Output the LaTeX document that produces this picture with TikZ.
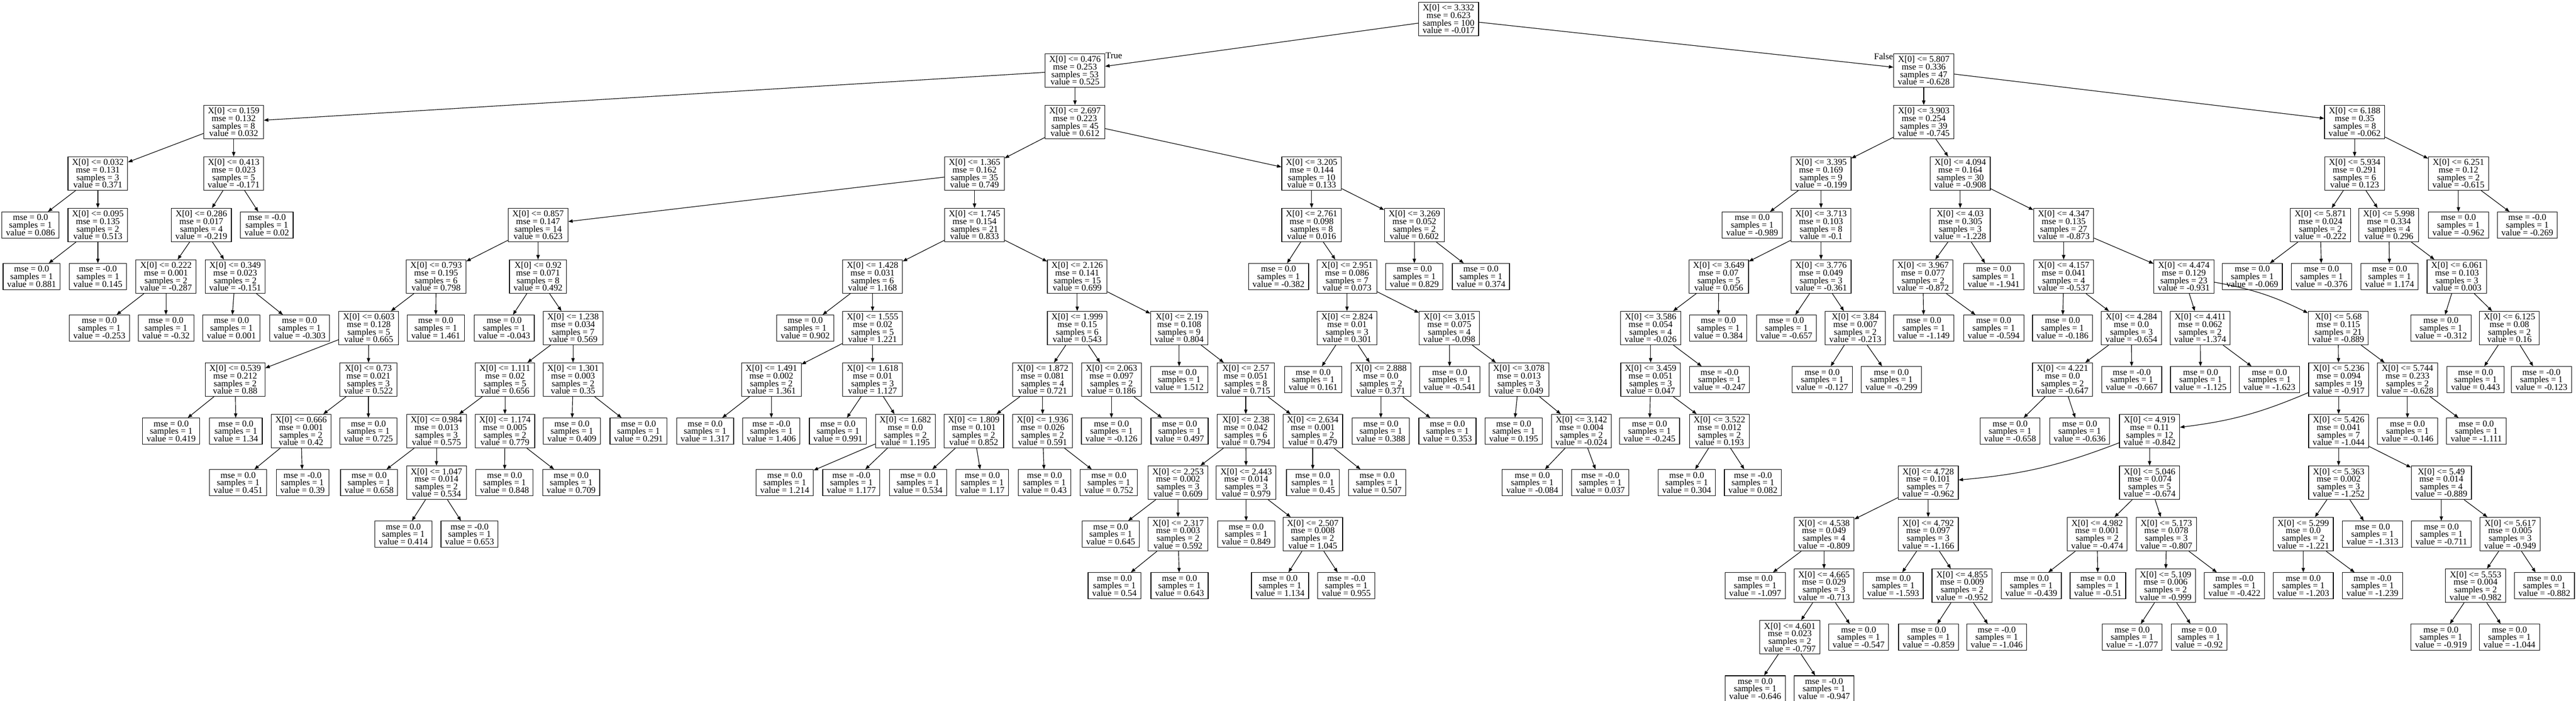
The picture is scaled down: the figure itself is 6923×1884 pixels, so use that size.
\documentclass[tikz,border=0pt]{standalone}
\usepackage{fontspec}
\setmainfont{Liberation Serif}
\usetikzlibrary{arrows.meta}

\newcommand{\nodefont}{\fontsize{24}{20.3}\selectfont\lineskiplimit=-30pt}
% split node: name, x, level, threshold, mse, samples, value
\newcommand{\splitnode}[7]{\node[split] (#1) at (#2,{-51-138.5*(#3-1)}) {X[0] <= #4\\mse = #5\\samples = #6\\value = #7};}
% leaf: name, x, level, mse, value
\newcommand{\leafnode}[5]{\node[leaf] (#1) at (#2,{-51-138.5*(#3-1)}) {mse = #4\\samples = 1\\value = #5};}

\begin{document}
\begin{tikzpicture}[x=1pt,y=1pt,
    split/.style={draw,line width=1.6pt,align=center,font=\nodefont,inner xsep=11pt,inner ysep=2pt,minimum height=90pt},
    leaf/.style={split,minimum height=70pt},
    edge/.style={line width=1.6pt,-{Triangle[length=12pt,width=9pt]}},
    lbl/.style={font=\nodefont,inner sep=1pt}]
    \useasboundingbox (0,0) rectangle (6923,-1884);
    \splitnode{root}{3893}{1}{3.332}{0.623}{100}{-0.017}
    \splitnode{a0476}{2889}{2}{0.476}{0.253}{53}{0.525}
    \splitnode{a5807}{5170}{2}{5.807}{0.336}{47}{-0.628}
    \splitnode{a0159}{628}{3}{0.159}{0.132}{8}{0.032}
    \splitnode{a2697}{2889}{3}{2.697}{0.223}{45}{0.612}
    \splitnode{a3903}{5170}{3}{3.903}{0.254}{39}{-0.745}
    \splitnode{a6188}{6328}{3}{6.188}{0.35}{8}{-0.062}
    \splitnode{a0032}{263}{4}{0.032}{0.131}{3}{0.371}
    \splitnode{a0413}{628}{4}{0.413}{0.023}{5}{-0.171}
    \splitnode{a1365}{2619}{4}{1.365}{0.162}{35}{0.749}
    \splitnode{a3205}{3525}{4}{3.205}{0.144}{10}{0.133}
    \splitnode{a3395}{4894}{4}{3.395}{0.169}{9}{-0.199}
    \splitnode{a4094}{5268}{4}{4.094}{0.164}{30}{-0.908}
    \splitnode{a5934}{6328}{4}{5.934}{0.291}{6}{0.123}
    \splitnode{a6251}{6607}{4}{6.251}{0.12}{2}{-0.615}
    \splitnode{a0095}{263}{5}{0.095}{0.135}{2}{0.513}
    \splitnode{a0286}{541}{5}{0.286}{0.017}{4}{-0.219}
    \splitnode{a0857}{1446}{5}{0.857}{0.147}{14}{0.623}
    \splitnode{a1745}{2619}{5}{1.745}{0.154}{21}{0.833}
    \splitnode{a2761}{3525}{5}{2.761}{0.098}{8}{0.016}
    \splitnode{a3269}{3801}{5}{3.269}{0.052}{2}{0.602}
    \splitnode{a3713}{4894}{5}{3.713}{0.103}{8}{-0.1}
    \splitnode{a4030}{5268}{5}{4.03}{0.305}{3}{-1.228}
    \splitnode{a4347}{5546}{5}{4.347}{0.135}{27}{-0.873}
    \splitnode{a5871}{6236}{5}{5.871}{0.024}{2}{-0.222}
    \splitnode{a5998}{6420}{5}{5.998}{0.334}{4}{0.296}
    \splitnode{a0222}{446}{6}{0.222}{0.001}{2}{-0.287}
    \splitnode{a0349}{632}{6}{0.349}{0.023}{2}{-0.151}
    \splitnode{a0793}{1172}{6}{0.793}{0.195}{6}{0.798}
    \splitnode{a0920}{1446}{6}{0.92}{0.071}{8}{0.492}
    \splitnode{a1428}{2345}{6}{1.428}{0.031}{6}{1.168}
    \splitnode{a2126}{2895}{6}{2.126}{0.141}{15}{0.699}
    \splitnode{a2951}{3620}{6}{2.951}{0.086}{7}{0.073}
    \splitnode{a3649}{4619}{6}{3.649}{0.07}{5}{0.056}
    \splitnode{a3776}{4894}{6}{3.776}{0.049}{3}{-0.361}
    \splitnode{a3967}{5168}{6}{3.967}{0.077}{2}{-0.872}
    \splitnode{a4157}{5546}{6}{4.157}{0.041}{4}{-0.537}
    \splitnode{a4474}{5869}{6}{4.474}{0.129}{23}{-0.931}
    \splitnode{a6061}{6603}{6}{6.061}{0.103}{3}{0.003}
    \splitnode{a0603}{991}{7}{0.603}{0.128}{5}{0.665}
    \splitnode{a1238}{1540}{7}{1.238}{0.034}{7}{0.569}
    \splitnode{a1555}{2345}{7}{1.555}{0.02}{5}{1.221}
    \splitnode{a1999}{2895}{7}{1.999}{0.15}{6}{0.543}
    \splitnode{a2190}{3169}{7}{2.19}{0.108}{9}{0.804}
    \splitnode{a2824}{3620}{7}{2.824}{0.01}{3}{0.301}
    \splitnode{a3015}{3895}{7}{3.015}{0.075}{4}{-0.098}
    \splitnode{a3586}{4436}{7}{3.586}{0.054}{4}{-0.026}
    \splitnode{a3840}{4986}{7}{3.84}{0.007}{2}{-0.213}
    \splitnode{a4284}{5728}{7}{4.284}{0.0}{3}{-0.654}
    \splitnode{a4411}{5913}{7}{4.411}{0.062}{2}{-1.374}
    \splitnode{a5680}{6284}{7}{5.68}{0.115}{21}{-0.889}
    \splitnode{a6125}{6744}{7}{6.125}{0.08}{2}{0.16}
    \splitnode{a0539}{632}{8}{0.539}{0.212}{2}{0.88}
    \splitnode{a0730}{990}{8}{0.73}{0.021}{3}{0.522}
    \splitnode{a1111}{1357}{8}{1.111}{0.02}{5}{0.656}
    \splitnode{a1301}{1540}{8}{1.301}{0.003}{2}{0.35}
    \splitnode{a1491}{2073}{8}{1.491}{0.002}{2}{1.361}
    \splitnode{a1618}{2345}{8}{1.618}{0.01}{3}{1.127}
    \splitnode{a1872}{2802}{8}{1.872}{0.081}{4}{0.721}
    \splitnode{a2063}{2987}{8}{2.063}{0.097}{2}{0.186}
    \splitnode{a2570}{3348}{8}{2.57}{0.051}{8}{0.715}
    \splitnode{a2888}{3711}{8}{2.888}{0.0}{2}{0.371}
    \splitnode{a3078}{4082}{8}{3.078}{0.013}{3}{0.049}
    \splitnode{a3459}{4436}{8}{3.459}{0.051}{3}{0.047}
    \splitnode{a4221}{5543}{8}{4.221}{0.0}{2}{-0.647}
    \splitnode{a5236}{6285}{8}{5.236}{0.094}{19}{-0.917}
    \splitnode{a5744}{6470}{8}{5.744}{0.233}{2}{-0.628}
    \splitnode{a0666}{809}{9}{0.666}{0.001}{2}{0.42}
    \splitnode{a0984}{1173}{9}{0.984}{0.013}{3}{0.575}
    \splitnode{a1174}{1357}{9}{1.174}{0.005}{2}{0.779}
    \splitnode{a1682}{2433}{9}{1.682}{0.0}{2}{1.195}
    \splitnode{a1809}{2617}{9}{1.809}{0.101}{2}{0.852}
    \splitnode{a1936}{2802}{9}{1.936}{0.026}{2}{0.591}
    \splitnode{a2380}{3348}{9}{2.38}{0.042}{6}{0.794}
    \splitnode{a2634}{3528}{9}{2.634}{0.001}{2}{0.479}
    \splitnode{a3142}{4250}{9}{3.142}{0.004}{2}{-0.024}
    \splitnode{a3522}{4621}{9}{3.522}{0.012}{2}{0.193}
    \splitnode{a4919}{5777}{9}{4.919}{0.11}{12}{-0.842}
    \splitnode{a5426}{6285}{9}{5.426}{0.041}{7}{-1.044}
    \splitnode{a1047}{1173}{10}{1.047}{0.014}{2}{0.534}
    \splitnode{a2253}{3166}{10}{2.253}{0.002}{3}{0.609}
    \splitnode{a2443}{3349}{10}{2.443}{0.014}{3}{0.979}
    \splitnode{a4728}{5182}{10}{4.728}{0.101}{7}{-0.962}
    \splitnode{a5046}{5777}{10}{5.046}{0.074}{5}{-0.674}
    \splitnode{a5363}{6285}{10}{5.363}{0.002}{3}{-1.252}
    \splitnode{a5490}{6561}{10}{5.49}{0.014}{4}{-0.889}
    \splitnode{a2317}{3166}{11}{2.317}{0.003}{2}{0.592}
    \splitnode{a2507}{3528}{11}{2.507}{0.008}{2}{1.045}
    \splitnode{a4538}{4902}{11}{4.538}{0.049}{4}{-0.809}
    \splitnode{a4792}{5182}{11}{4.792}{0.097}{3}{-1.166}
    \splitnode{a4982}{5636}{11}{4.982}{0.001}{2}{-0.474}
    \splitnode{a5173}{5822}{11}{5.173}{0.078}{3}{-0.807}
    \splitnode{a5299}{6190}{11}{5.299}{0.0}{2}{-1.221}
    \splitnode{a5617}{6746}{11}{5.617}{0.005}{3}{-0.949}
    \splitnode{a4665}{4902}{12}{4.665}{0.029}{3}{-0.713}
    \splitnode{a4855}{5273}{12}{4.855}{0.009}{2}{-0.952}
    \splitnode{a5109}{5820}{12}{5.109}{0.006}{2}{-0.999}
    \splitnode{a5553}{6653}{12}{5.553}{0.004}{2}{-0.982}
    \splitnode{a4601}{4810}{13}{4.601}{0.023}{2}{-0.797}
    \leafnode{l0086}{82}{5}{0.0}{0.086}
    \leafnode{l0020}{717}{5}{-0.0}{0.02}
    \leafnode{lm0989}{4709}{5}{0.0}{-0.989}
    \leafnode{lm0962}{6607}{5}{0.0}{-0.962}
    \leafnode{lm0269}{6792}{5}{-0.0}{-0.269}
    \leafnode{l0881}{85}{6}{0.0}{0.881}
    \leafnode{l0145}{263}{6}{-0.0}{0.145}
    \leafnode{lm0382}{3436}{6}{0.0}{-0.382}
    \leafnode{l0829}{3801}{6}{0.0}{0.829}
    \leafnode{l0374}{3980}{6}{0.0}{0.374}
    \leafnode{lm1941}{5358}{6}{0.0}{-1.941}
    \leafnode{lm0069}{6053}{6}{0.0}{-0.069}
    \leafnode{lm0376}{6239}{6}{0.0}{-0.376}
    \leafnode{l1174}{6422}{6}{0.0}{1.174}
    \leafnode{lm0253}{267}{7}{0.0}{-0.253}
    \leafnode{lm0320}{446}{7}{0.0}{-0.32}
    \leafnode{l0001}{622}{7}{0.0}{0.001}
    \leafnode{lm0303}{805}{7}{0.0}{-0.303}
    \leafnode{l1461}{1171}{7}{0.0}{1.461}
    \leafnode{lm0043}{1355}{7}{0.0}{-0.043}
    \leafnode{l0902}{2164}{7}{0.0}{0.902}
    \leafnode{l0384}{4618}{7}{0.0}{0.384}
    \leafnode{lm0657}{4801}{7}{0.0}{-0.657}
    \leafnode{lm1149}{5170}{7}{0.0}{-1.149}
    \leafnode{lm0594}{5358}{7}{0.0}{-0.594}
    \leafnode{lm0186}{5543}{7}{0.0}{-0.186}
    \leafnode{lm0312}{6560}{7}{0.0}{-0.312}
    \leafnode{l1512}{3169}{8}{0.0}{1.512}
    \leafnode{l0161}{3529}{8}{0.0}{0.161}
    \leafnode{lm0541}{3896}{8}{0.0}{-0.541}
    \leafnode{lm0247}{4621}{8}{-0.0}{-0.247}
    \leafnode{lm0127}{4897}{8}{0.0}{-0.127}
    \leafnode{lm0299}{5083}{8}{0.0}{-0.299}
    \leafnode{lm0667}{5729}{8}{-0.0}{-0.667}
    \leafnode{lm1125}{5914}{8}{0.0}{-1.125}
    \leafnode{lm1623}{6099}{8}{0.0}{-1.623}
    \leafnode{l0443}{6653}{8}{0.0}{0.443}
    \leafnode{lm0123}{6830}{8}{-0.0}{-0.123}
    \leafnode{l0419}{460}{9}{0.0}{0.419}
    \leafnode{l1340}{634}{9}{0.0}{1.34}
    \leafnode{l0725}{990}{9}{0.0}{0.725}
    \leafnode{l0409}{1537}{9}{0.0}{0.409}
    \leafnode{l0291}{1716}{9}{0.0}{0.291}
    \leafnode{l1317}{1895}{9}{0.0}{1.317}
    \leafnode{l1406}{2073}{9}{-0.0}{1.406}
    \leafnode{l0991}{2252}{9}{0.0}{0.991}
    \leafnode{lm0126}{2987}{9}{0.0}{-0.126}
    \leafnode{l0497}{3170}{9}{0.0}{0.497}
    \leafnode{l0388}{3711}{9}{0.0}{0.388}
    \leafnode{l0353}{3890}{9}{0.0}{0.353}
    \leafnode{l0195}{4068}{9}{0.0}{0.195}
    \leafnode{lm0245}{4433}{9}{0.0}{-0.245}
    \leafnode{lm0658}{5402}{9}{0.0}{-0.658}
    \leafnode{lm0636}{5589}{9}{0.0}{-0.636}
    \leafnode{lm0146}{6470}{9}{0.0}{-0.146}
    \leafnode{lm1111}{6655}{9}{0.0}{-1.111}
    \leafnode{l0451}{640}{10}{0.0}{0.451}
    \leafnode{l0390}{813}{10}{-0.0}{0.39}
    \leafnode{l0658}{992}{10}{0.0}{0.658}
    \leafnode{l0848}{1356}{10}{0.0}{0.848}
    \leafnode{l0709}{1535}{10}{0.0}{0.709}
    \leafnode{l1214}{2109}{10}{0.0}{1.214}
    \leafnode{l1177}{2288}{10}{-0.0}{1.177}
    \leafnode{l0534}{2467}{10}{0.0}{0.534}
    \leafnode{l1170}{2640}{10}{0.0}{1.17}
    \leafnode{l0430}{2807}{10}{0.0}{0.43}
    \leafnode{l0752}{2980}{10}{0.0}{0.752}
    \leafnode{l0450}{3528}{10}{0.0}{0.45}
    \leafnode{l0507}{3701}{10}{0.0}{0.507}
    \leafnode{lm0084}{4118}{10}{0.0}{-0.084}
    \leafnode{l0037}{4301}{10}{-0.0}{0.037}
    \leafnode{l0304}{4533}{10}{0.0}{0.304}
    \leafnode{l0082}{4711}{10}{-0.0}{0.082}
    \leafnode{l0414}{1084}{11}{0.0}{0.414}
    \leafnode{l0653}{1262}{11}{-0.0}{0.653}
    \leafnode{l0645}{2985}{11}{0.0}{0.645}
    \leafnode{l0849}{3349}{11}{0.0}{0.849}
    \leafnode{lm1313}{6376}{11}{0.0}{-1.313}
    \leafnode{lm0711}{6561}{11}{0.0}{-0.711}
    \leafnode{l0540}{2995}{12}{0.0}{0.54}
    \leafnode{l0643}{3170}{12}{0.0}{0.643}
    \leafnode{l1134}{3440}{12}{0.0}{1.134}
    \leafnode{l0955}{3618}{12}{-0.0}{0.955}
    \leafnode{lm1097}{4717}{12}{0.0}{-1.097}
    \leafnode{lm1593}{5088}{12}{0.0}{-1.593}
    \leafnode{lm0439}{5459}{12}{0.0}{-0.439}
    \leafnode{lm0510}{5638}{12}{0.0}{-0.51}
    \leafnode{lm0422}{6005}{12}{-0.0}{-0.422}
    \leafnode{lm1203}{6190}{12}{0.0}{-1.203}
    \leafnode{lm1239}{6376}{12}{-0.0}{-1.239}
    \leafnode{lm0882}{6838}{12}{0.0}{-0.882}
    \leafnode{lm0547}{4995}{13}{0.0}{-0.547}
    \leafnode{lm0859}{5183}{13}{0.0}{-0.859}
    \leafnode{lm1046}{5366}{13}{-0.0}{-1.046}
    \leafnode{lm1077}{5730}{13}{0.0}{-1.077}
    \leafnode{lm0920}{5910}{13}{0.0}{-0.92}
    \leafnode{lm0919}{6560}{13}{0.0}{-0.919}
    \leafnode{lm1044}{6744}{13}{0.0}{-1.044}
    \leafnode{lm0646}{4717}{14}{0.0}{-0.646}
    \leafnode{lm0947}{4902}{14}{-0.0}{-0.947}
    \node[lbl,anchor=west] (lblT) at ([yshift=-6pt]a0476.north east) {True};
    \node[lbl,anchor=east] (lblF) at ([yshift=-8pt]a5807.north west) {False};
    \foreach \a/\b in {root/a0476,root/a5807,a0476/a0159,a0476/a2697,a5807/a3903,a5807/a6188,
        a0159/a0032,a0159/a0413,a2697/a1365,a2697/a3205,a3903/a3395,a3903/a4094,a6188/a5934,a6188/a6251,
        a0032/l0086,a0032/a0095,a0413/a0286,a0413/l0020,a1365/a0857,a1365/a1745,a3205/a2761,a3205/a3269,
        a3395/lm0989,a3395/a3713,a4094/a4030,a4094/a4347,a5934/a5871,a5934/a5998,a6251/lm0962,a6251/lm0269,
        a0095/l0881,a0095/l0145,a0286/a0222,a0286/a0349,a0857/a0793,a0857/a0920,a1745/a1428,a1745/a2126,
        a2761/lm0382,a2761/a2951,a3269/l0829,a3269/l0374,a3713/a3649,a3713/a3776,a4030/a3967,a4030/lm1941,
        a4347/a4157,a4347/a4474,a5871/lm0069,a5871/lm0376,a5998/l1174,a5998/a6061,
        a0222/lm0253,a0222/lm0320,a0349/l0001,a0349/lm0303,a0793/a0603,a0793/l1461,a0920/lm0043,a0920/a1238,
        a1428/l0902,a1428/a1555,a2126/a1999,a2126/a2190,a2951/a2824,a2951/a3015,a3649/a3586,a3649/l0384,
        a3776/lm0657,a3776/a3840,a3967/lm1149,a3967/lm0594,a4157/lm0186,a4157/a4284,a4474/a4411,
        a6061/lm0312,a6061/a6125,
        a0603/a0539,a0603/a0730,a1238/a1111,a1238/a1301,a1555/a1491,a1555/a1618,a1999/a1872,a1999/a2063,
        a2190/l1512,a2190/a2570,a2824/l0161,a2824/a2888,a3015/lm0541,a3015/a3078,a3586/a3459,a3586/lm0247,
        a3840/lm0127,a3840/lm0299,a4284/a4221,a4284/lm0667,a4411/lm1125,a4411/lm1623,a5680/a5236,a5680/a5744,
        a6125/l0443,a6125/lm0123,
        a0539/l0419,a0539/l1340,a0730/a0666,a0730/l0725,a1111/a0984,a1111/a1174,a1301/l0409,a1301/l0291,
        a1491/l1317,a1491/l1406,a1618/l0991,a1618/a1682,a1872/a1809,a1872/a1936,a2063/lm0126,a2063/l0497,
        a2570/a2380,a2570/a2634,a2888/l0388,a2888/l0353,a3078/l0195,a3078/a3142,a3459/lm0245,a3459/a3522,
        a4221/lm0658,a4221/lm0636,a5236/a5426,a5744/lm0146,a5744/lm1111,
        a0666/l0451,a0666/l0390,a0984/l0658,a0984/a1047,a1174/l0848,a1174/l0709,a1682/l1214,a1682/l1177,
        a1809/l0534,a1809/l1170,a1936/l0430,a1936/l0752,a2380/a2253,a2380/a2443,a2634/l0450,a2634/l0507,
        a3142/lm0084,a3142/l0037,a3522/l0304,a3522/l0082,a4919/a5046,a5426/a5363,a5426/a5490,
        a1047/l0414,a1047/l0653,a2253/l0645,a2253/a2317,a2443/l0849,a2443/a2507,a4728/a4538,a4728/a4792,
        a5046/a4982,a5046/a5173,a5363/a5299,a5363/lm1313,a5490/lm0711,a5490/a5617,
        a2317/l0540,a2317/l0643,a2507/l1134,a2507/l0955,a4538/lm1097,a4538/a4665,a4792/lm1593,a4792/a4855,
        a4982/lm0439,a4982/lm0510,a5173/a5109,a5173/lm0422,a5299/lm1203,a5299/lm1239,a5617/a5553,a5617/lm0882,
        a4665/a4601,a4665/lm0547,a4855/lm0859,a4855/lm1046,a5109/lm1077,a5109/lm0920,a5553/lm0919,a5553/lm1044,
        a4601/lm0646,a4601/lm0947}
        \draw[edge] (\a)--(\b);
    \draw[edge] (a4474) to[bend left=8] (a5680);
    \draw[edge] (a5236) to[bend left=8] (a4919);
    \draw[edge] (a4919) to[bend left=8] (a4728);
\end{tikzpicture}
\end{document}
